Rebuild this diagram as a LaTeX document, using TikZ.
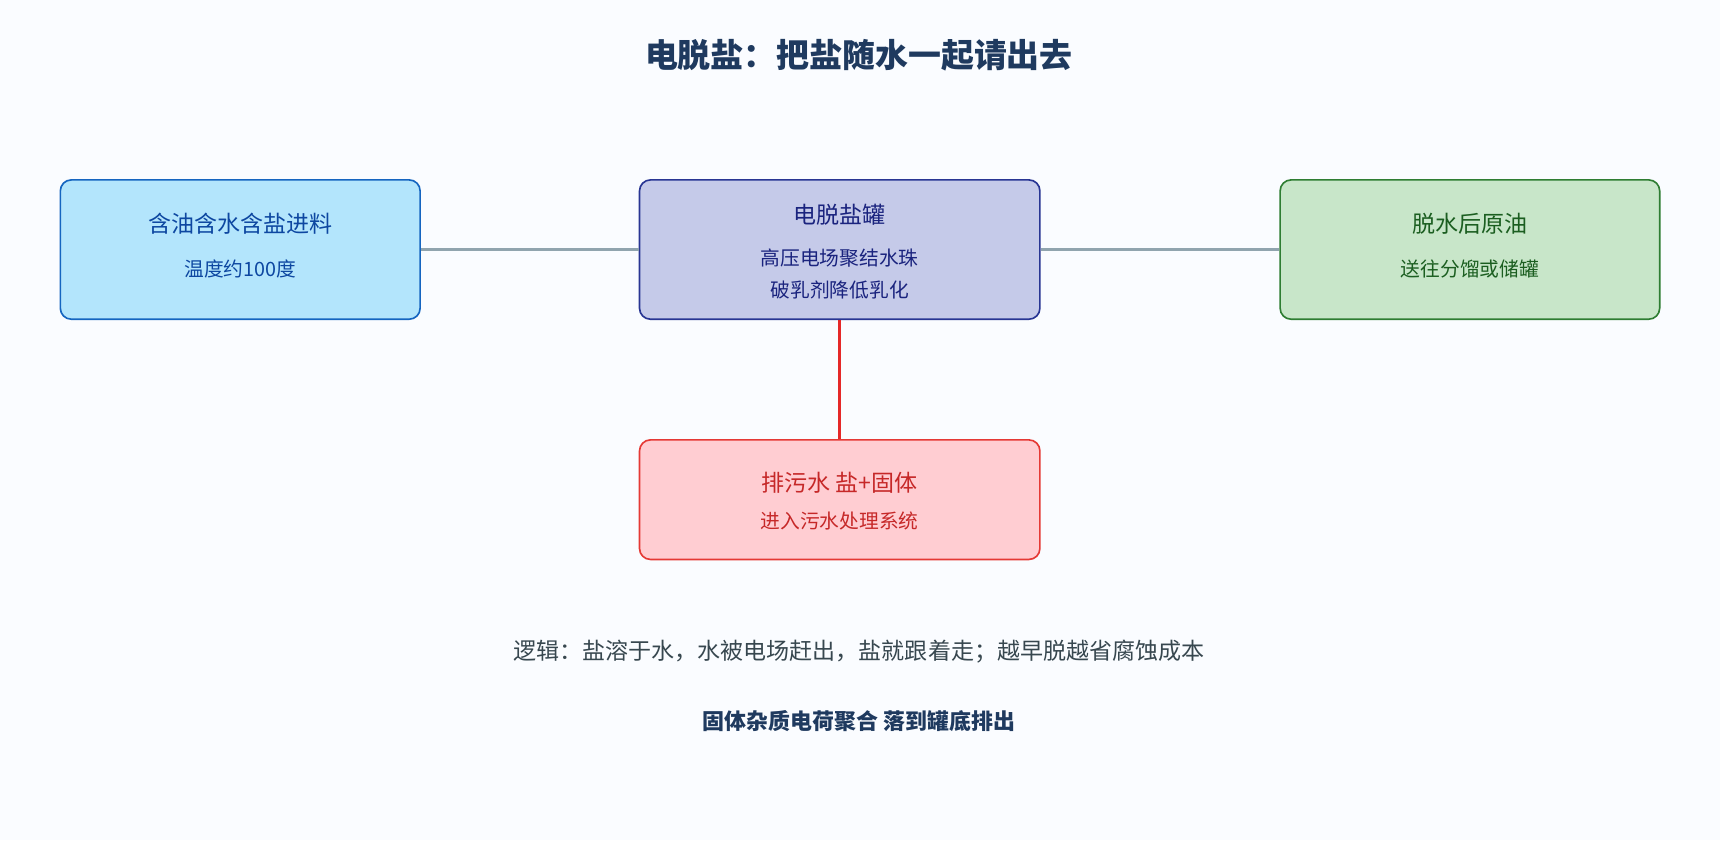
\documentclass[tikz,border=0pt]{standalone}
\usepackage{fontspec}
\setmainfont{Noto Sans CJK SC}
\begin{document}
\definecolor{bg}{HTML}{FAFCFF}
\definecolor{ttl}{HTML}{1F3A5F}
\begin{tikzpicture}[x=1pt,y=-1pt,
 box/.style={draw,line width=1.5pt,rounded corners=10pt,inner sep=0pt},
 conn/.style={line width=3pt}]
\fill[bg] (0,0) rectangle (1568,766);
\useasboundingbox (0,0) rectangle (1568,766);
\node[font=\bfseries\fontsize{30}{36}\selectfont,text=ttl] (title) at (783,50) {电脱盐：把盐随水一起请出去};
\node[box,fill={rgb,255:red,179;green,229;blue,252},draw={rgb,255:red,21;green,101;blue,192},minimum width=328pt,minimum height=127pt] (feed) at (219,227.5) {};
\node[box,fill={rgb,255:red,197;green,202;blue,233},draw={rgb,255:red,40;green,53;blue,147},minimum width=365pt,minimum height=127pt] (tank) at (765.5,227.5) {};
\node[box,fill={rgb,255:red,200;green,230;blue,201},draw={rgb,255:red,46;green,125;blue,50},minimum width=346pt,minimum height=127pt] (oil) at (1340,227.5) {};
\node[box,fill={rgb,255:red,255;green,205;blue,210},draw={rgb,255:red,229;green,57;blue,53},minimum width=365pt,minimum height=109pt] (waste) at (765.5,455.5) {};
\draw[conn,color={rgb,255:red,144;green,164;blue,174}] (feed.east) -- (tank.west);
\draw[conn,color={rgb,255:red,144;green,164;blue,174}] (tank.east) -- (oil.west);
\draw[conn,color={rgb,255:red,229;green,40;blue,40}] (tank.south) -- (waste.north);
\begin{scope}[every node/.style={text={rgb,255:red,13;green,71;blue,161}}]
\node[font=\fontsize{21}{25}\selectfont] (f1) at (219,204) {含油含水含盐进料};
\node[font=\fontsize{18}{22}\selectfont] (f2) at (219,245) {温度约100度};
\end{scope}
\begin{scope}[every node/.style={text={rgb,255:red,26;green,35;blue,126}}]
\node[font=\fontsize{21}{25}\selectfont] (t1) at (765.5,196) {电脱盐罐};
\node[font=\fontsize{18}{22}\selectfont] (t2) at (765.5,235) {高压电场聚结水珠};
\node[font=\fontsize{18}{22}\selectfont] (t3) at (765.5,264) {破乳剂降低乳化};
\end{scope}
\begin{scope}[every node/.style={text={rgb,255:red,27;green,94;blue,32}}]
\node[font=\fontsize{21}{25}\selectfont] (o1) at (1340,204) {脱水后原油};
\node[font=\fontsize{18}{22}\selectfont] (o2) at (1340,245) {送往分馏或储罐};
\end{scope}
\begin{scope}[every node/.style={text={rgb,255:red,198;green,40;blue,40}}]
\node[font=\fontsize{21}{25}\selectfont] (w1) at (765.5,440) {排污水 盐+固体};
\node[font=\fontsize{18}{22}\selectfont] (w2) at (765.5,475) {进入污水处理系统};
\end{scope}
\node[font=\fontsize{21}{25}\selectfont,text={rgb,255:red,55;green,71;blue,79}] (logic) at (783,594) {逻辑：盐溶于水，水被电场赶出，盐就跟着走；越早脱越省腐蚀成本};
\node[font=\bfseries\fontsize{20}{24}\selectfont,text=ttl] (solid) at (783,657) {固体杂质电荷聚合 落到罐底排出};
\end{tikzpicture}
\end{document}
